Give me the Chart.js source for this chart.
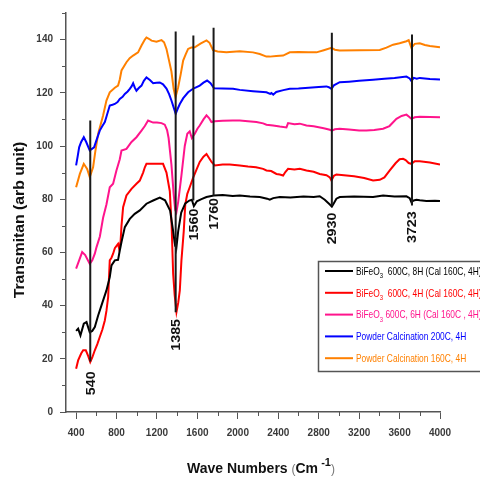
<!DOCTYPE html>
<html><head><meta charset="utf-8">
<script src="https://cdn.jsdelivr.net/npm/chart.js@4.4.0/dist/chart.umd.min.js"></script>
<style>html,body{margin:0;padding:0;background:#fff;overflow:hidden}</style>
</head><body>
<canvas id="c" width="480" height="477" style="display:block;width:480px;height:477px"></canvas>
<script>
// ---------- DATA ----------
const xTickValues = [400,800,1200,1600,2000,2400,2800,3200,3600,4000];
const xMinorValues = [600,1000,1400,1800,2200,2600,3000,3400,3800];
const yTickValues = [0,20,40,60,80,100,120,140];
const yMinorValues = [10,30,50,70,90,110,130,150];

const seriesLabels = [
  'BiFeO₃  600C, 8H (Cal 160C, 4H)',
  'BiFeO₃  600C, 4H (Cal 160C, 4H)',
  'BiFeO₃ 600C, 6H (Cal 160C , 4H)',
  'Powder Calcination 200C, 4H',
  'Powder Calcination 160C, 4H'
];
const seriesColors = ['#000000','#ff0000','#ff148c','#0000ff','#ff8000'];

// [wavenumber, transmittance]
const blackPts = [[400,30.5],[420,31.3],[443,28.8],[476,33.2],[503,33.8],[535,30.0],[560,30.5],[585,31.9],[618,36.3],[651,40.1],[700,45.7],[733,50.7],[750,55.1],[783,57.0],[815,57.2],[832,60.7],[849,63.9],[882,69.5],[931,72.6],[980,74.5],[1030,75.8],[1096,78.3],[1162,79.5],[1228,80.6],[1280,79.6],[1330,75.7],[1360,68],[1374,64],[1380,62.5],[1388,65.5],[1395,62.8],[1410,68],[1440,75],[1480,78.4],[1520,79.5],[1545,79.8],[1565,77.4],[1595,79.2],[1640,80],[1690,80.8],[1762,81.4],[1850,81.6],[1950,81.2],[2019,81.4],[2120,81.0],[2217,80.8],[2290,80.2],[2316,79.8],[2350,80.4],[2415,80.8],[2520,80.6],[2650,81],[2750,80.8],[2810,81.1],[2860,79.8],[2910,78],[2930,77.2],[2950,78.5],[2975,80.2],[3008,80.8],[3150,81],[3338,80.8],[3437,81.4],[3550,81],[3668,81.1],[3700,80.4],[3717,78.9],[3740,79.5],[3767,79.8],[3800,79.6],[3866,79.3],[3950,79.4],[4000,79.3]];

const redPts = [[400,16.3],[420,19.4],[450,22],[470,23.2],[496,23.2],[520,21],[540,18.8],[560,20.5],[585,23.2],[610,25.5],[634,28.2],[660,31],[684,34.4],[700,38],[717,43.2],[733,57],[750,58],[766,59.5],[783,61.6],[815,63.2],[825,61.5],[840,64],[849,70],[865,77],[898,81.4],[948,83.9],[997,85.8],[1030,87],[1063,90],[1080,92],[1096,93.3],[1150,93.3],[1200,93.3],[1260,93.3],[1294,90],[1327,83],[1345,70],[1360,52],[1375,44],[1393,37.6],[1410,41],[1426,45.7],[1442,57],[1465,68],[1480,78],[1500,82],[1524,84.5],[1557,88],[1590,91],[1623,94],[1660,96],[1690,97],[1715,95.5],[1740,94],[1772,92.7],[1850,93],[1920,93],[2019,92.7],[2100,92.3],[2180,92],[2250,91.4],[2283,90.8],[2330,90.6],[2382,89.5],[2415,89.3],[2448,88.9],[2470,90.2],[2497,91.4],[2560,91.2],[2613,91.4],[2679,90.8],[2750,90.3],[2810,89.5],[2877,89],[2910,88.2],[2926,87],[2950,88.8],[2975,89.3],[3050,89],[3150,88.6],[3250,88],[3338,87],[3404,87.3],[3450,88.2],[3503,90.8],[3560,93.5],[3600,95],[3635,95.2],[3660,94.7],[3690,93.6],[3717,93.3],[3750,94.3],[3800,94.3],[3900,93.8],[4000,93]];

const magentaPts = [[400,53.9],[430,57],[460,60.1],[490,59],[535,55.7],[560,57],[585,59.5],[602,62],[635,66],[667,73],[700,78],[733,84.5],[766,85.8],[799,90.8],[832,95],[849,98.3],[898,98.9],[948,101.5],[997,103.3],[1047,105.8],[1080,107.5],[1112,109.6],[1162,108.8],[1200,108.8],[1245,108.6],[1277,108],[1300,106],[1315,103],[1343,93],[1365,82],[1380,76],[1392,75],[1410,79],[1442,89],[1475,100],[1500,104.6],[1524,105.5],[1545,103],[1574,104.6],[1600,106.5],[1623,107.7],[1660,110],[1690,111.5],[1715,110.5],[1739,109],[1772,109.3],[1850,109.5],[1950,109.6],[2019,109.6],[2100,109.3],[2184,109],[2250,108.5],[2283,108],[2349,107.7],[2415,107.3],[2481,107],[2497,108.6],[2560,108.2],[2613,108.4],[2679,107.7],[2750,107.4],[2850,106.7],[2910,106.1],[2930,105.8],[2960,106.3],[3008,106.5],[3100,106.2],[3200,105.8],[3272,105.8],[3350,106],[3437,106.5],[3500,107.5],[3569,110.2],[3620,111.3],[3668,111.8],[3700,110.8],[3717,110.2],[3750,110.8],[3800,111],[3900,110.9],[4000,110.8]];

const bluePts = [[400,92.7],[415,96],[430,99.5],[450,101.5],[476,103.3],[500,101.5],[535,98.3],[560,99],[578,99.5],[600,102],[634,105.8],[660,107.5],[684,109],[700,111],[733,115.2],[760,115.5],[783,115.8],[810,116.5],[832,117.7],[860,118.5],[882,119.6],[910,120.5],[931,121.5],[950,122.5],[964,123.6],[980,122],[997,120.8],[1020,121.8],[1047,122.7],[1070,124.5],[1096,125.8],[1130,124.8],[1162,123.6],[1195,123.8],[1228,123.9],[1260,123.2],[1294,121.6],[1320,119.5],[1343,117.1],[1365,114.5],[1385,112.1],[1405,114],[1426,115.8],[1460,118],[1508,120.2],[1560,121.6],[1623,122.7],[1660,123.8],[1696,124.6],[1730,123.6],[1765,121.7],[1850,121.6],[1953,121.5],[2019,121.1],[2150,120.6],[2283,120.2],[2320,119.6],[2333,119.9],[2350,119.3],[2380,120.3],[2450,121],[2514,121.5],[2600,121.6],[2700,121.9],[2800,122.2],[2877,122.4],[2900,122.1],[2926,121.5],[2950,122.8],[3008,124],[3100,124.2],[3200,124.5],[3338,124.9],[3450,125.3],[3550,125.6],[3668,126.1],[3700,125.4],[3717,124.4],[3740,125.6],[3770,125.3],[3800,125.6],[3900,125.2],[4000,125]];

const orangePts = [[400,84.5],[437,89.5],[476,93.3],[509,91.4],[535,88.3],[568,92],[590,98],[618,104.6],[667,111.5],[700,117.1],[733,120.2],[783,121.9],[815,122.7],[832,125],[849,128.4],[898,131.5],[930,133],[964,134],[1013,135.2],[1047,137.8],[1080,140],[1096,140.8],[1120,140.3],[1146,139.6],[1195,139.2],[1245,139.8],[1270,139],[1294,136.5],[1320,132],[1343,128],[1365,121.5],[1383,118.3],[1409,122],[1435,127],[1459,132.1],[1485,134.5],[1508,136.5],[1540,137],[1574,137.1],[1630,138.5],[1690,139.7],[1720,138.8],[1755,136],[1800,135.5],[1887,135.2],[2019,135.6],[2150,135.2],[2217,134.6],[2283,133.6],[2316,133.6],[2380,133.8],[2448,134],[2514,135.2],[2600,135.3],[2700,135.2],[2778,135.2],[2850,136],[2926,136.9],[2960,136.2],[3008,135.9],[3200,136],[3404,136.1],[3470,137],[3536,138.1],[3600,138.6],[3668,139.4],[3690,139.8],[3717,136.9],[3750,138.4],[3800,138.6],[3850,138],[3900,137.6],[4000,137.1]];

const seriesPts = [blackPts, redPts, magentaPts, bluePts, orangePts];

// marker lines: wavenumber, top, bottom, label centre (in data units)
const peakWn     = [540, 1385, 1560, 1760, 2930, 3723];
const peakTop    = [109.6, 143, 141.5, 144.5, 142.6, 141.9];
const peakBottom = [19, 37.5, 79.5, 81.4, 77.6, 77.6];
const peakLabelY = [10.8, 29, 70.5, 74.5, 69, 69.5];
const peakLabels = ['540','1385','1560','1760','2930','3723'];

// ---------- CHART ----------
const datasets = [];
peakWn.forEach((w,i)=>{
  datasets.push({
    label: 'peak ' + peakLabels[i], isPeak: true,
    data: [{x:w,y:peakTop[i]},{x:w,y:peakBottom[i]}],
    borderColor:'#1a1a1a', borderWidth:2, pointRadius:0, tension:0, fill:false
  });
});
seriesPts.forEach((pts,i)=>{
  datasets.push({
    label: seriesLabels[i], isSeries: true,
    data: pts.map(p=>({x:p[0], y:p[1]})),
    borderColor: seriesColors[i], backgroundColor: seriesColors[i],
    borderWidth: 2, pointRadius: 0, tension: 0, fill:false
  });
});

const tickFont = {family:'"Liberation Sans", Arial, sans-serif', size:10, weight:'bold'};

const overlay = {
  id:'overlay',
  afterDraw(chart){
    const ctx = chart.ctx, xs = chart.scales.x, ys = chart.scales.y;
    ctx.save();
    // minor ticks
    ctx.strokeStyle = '#555'; ctx.lineWidth = 1;
    xMinorValues.forEach(v=>{
      const px = Math.round(xs.getPixelForValue(v))+0.5;
      ctx.beginPath(); ctx.moveTo(px, ys.bottom); ctx.lineTo(px, ys.bottom+4); ctx.stroke();
    });
    yMinorValues.forEach(v=>{
      const py = Math.round(ys.getPixelForValue(v))+0.5;
      ctx.beginPath(); ctx.moveTo(xs.left, py); ctx.lineTo(xs.left-4, py); ctx.stroke();
    });
    // peak labels
    ctx.fillStyle = '#111';
    ctx.font = 'bold 13px "Liberation Sans", Arial, sans-serif';
    ctx.textAlign = 'center'; ctx.textBaseline = 'middle';
    peakWn.forEach((w,i)=>{
      ctx.save();
      ctx.translate(xs.getPixelForValue(w), ys.getPixelForValue(peakLabelY[i]));
      ctx.rotate(-Math.PI/2);
      ctx.scale(1.1, 0.95);
      ctx.fillText(peakLabels[i], 0, 1);
      ctx.restore();
    });
    // axis titles
    ctx.fillStyle = '#111';
    ctx.save();
    ctx.translate(20, 220);
    ctx.rotate(-Math.PI/2);
    ctx.font = 'bold 15px "Liberation Sans", Arial, sans-serif';
    ctx.textAlign = 'center'; ctx.textBaseline = 'middle';
    ctx.scale(1.05, 1);
    ctx.fillText('Transmitan (arb unit)', 0, 0);
    ctx.restore();
    // x title with superscript
    ctx.textAlign = 'left'; ctx.textBaseline = 'alphabetic';
    let tx = 187; const ty = 473;
    const parts = [
      ['Wave Numbers ', 'bold 14px', 0, '#111'],
      ['(', '12px', 0, '#777'],
      ['Cm', 'bold 14px', 0, '#111'],
      [' -1', 'bold 11px', -7, '#111'],
      [')', '12px', 0, '#777']
    ];
    parts.forEach(p=>{
      ctx.font = p[1] + ' "Liberation Sans", Arial, sans-serif';
      ctx.fillStyle = p[3];
      ctx.fillText(p[0], tx, ty + p[2]);
      tx += ctx.measureText(p[0]).width;
    });
    // legend box
    const bx = 318.5, by = 261.5, bw = 200, bh = 110;
    ctx.fillStyle = '#fff';
    ctx.fillRect(bx, by, bw, bh);
    ctx.strokeStyle = '#555'; ctx.lineWidth = 1.5;
    ctx.strokeRect(bx, by, bw, bh);
    const rows = chart.data.datasets.filter(d=>d.isSeries);
    rows.forEach((d,i)=>{
      const ry = 271 + i*21.8;
      ctx.strokeStyle = d.borderColor; ctx.lineWidth = 2;
      ctx.beginPath(); ctx.moveTo(325, ry); ctx.lineTo(353, ry); ctx.stroke();
      ctx.fillStyle = d.borderColor; ctx.textBaseline = 'middle'; ctx.textAlign='left';
      ctx.save();
      ctx.translate(356, ry+1);
      ctx.scale(0.84, 1.05);
      let lx = 0;
      const segs = d.label.split('₃');
      segs.forEach((s,k)=>{
        ctx.font = '10px "Liberation Sans", Arial, sans-serif';
        ctx.fillText(s, lx, 0);
        lx += ctx.measureText(s).width;
        if (k < segs.length-1){
          ctx.font = '7px "Liberation Sans", Arial, sans-serif';
          ctx.fillText('3', lx, 4);
          lx += ctx.measureText('3').width;
        }
      });
      ctx.restore();
    });
    ctx.restore();
  }
};

new Chart(document.getElementById('c'), {
  type:'line',
  data:{datasets},
  options:{
    responsive:false, animation:false, devicePixelRatio:1,
    layout:{padding:{top:12, right:40, left:0, bottom:0}},
    plugins:{legend:{display:false}, tooltip:{enabled:false}, title:{display:false}},
    scales:{
      x:{
        type:'linear', min:300, max:4000,
        afterBuildTicks: s => { s.ticks = xTickValues.map(v=>({value:v})); },
        afterFit: s => { s.height = 65; },
        grid:{drawOnChartArea:false, drawTicks:true, tickLength:7, color:'#555', tickWidth:1},
        border:{display:true, color:'#555', width:1.5},
        ticks:{font:tickFont, color:'#3a3a3a', padding:8, maxRotation:0, autoSkip:false, callback:v=>String(v)}
      },
      y:{
        type:'linear', min:0, max:150,
        afterBuildTicks: s => { s.ticks = yTickValues.map(v=>({value:v})); },
        afterFit: s => { s.width = 66; },
        grid:{drawOnChartArea:false, drawTicks:true, tickLength:6, color:'#555', tickWidth:1},
        border:{display:true, color:'#555', width:1.5},
        ticks:{font:tickFont, color:'#3a3a3a', padding:7, autoSkip:false, callback:v=>String(v)}
      }
    }
  },
  plugins:[overlay]
});
</script>
</body></html>
